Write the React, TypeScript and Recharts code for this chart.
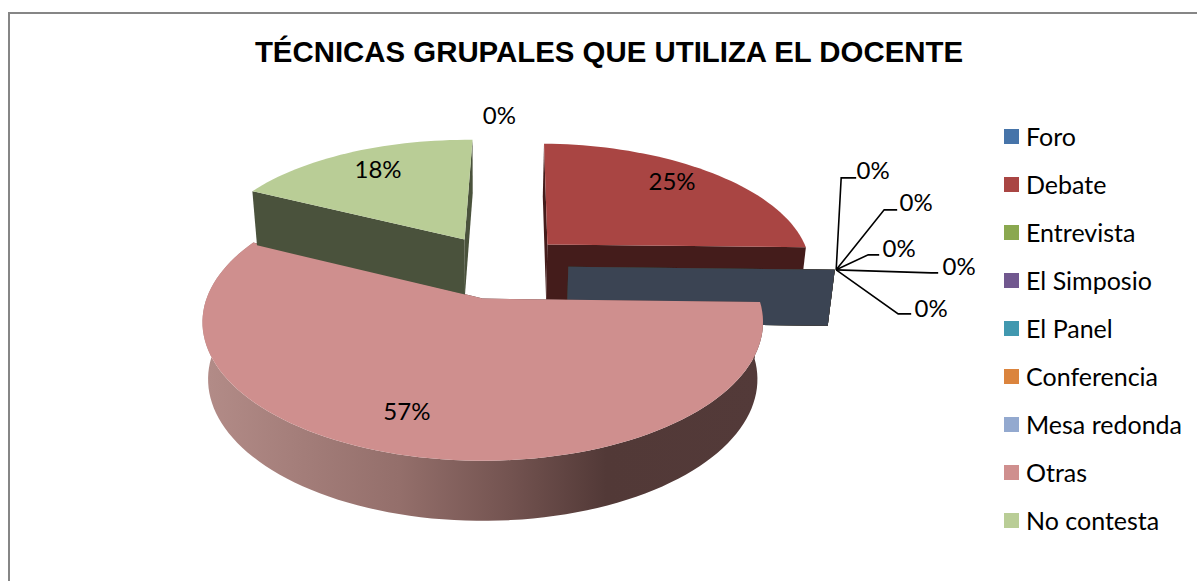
import React from "react";
import { PieChart, Pie, Legend } from "recharts";

const categories = ["Foro", "Debate", "Entrevista", "El Simposio", "El Panel", "Conferencia", "Mesa redonda", "Otras", "No contesta"];
const seriesValues = [0, 25, 0, 0, 0, 0, 0, 57, 18];
const sliceColors = ["#4674A9", "#A94543", "#8AA84F", "#71588F", "#4198AF", "#DB843D", "#93A9CF", "#CF8F8E", "#B9CD96"];
const chartTitle = "TÉCNICAS GRUPALES QUE UTILIZA EL DOCENTE";

const tableData = categories.map((name, i) => ({ name, value: seriesValues[i], fill: sliceColors[i] }));

// Perspective model of the tilted disc
const PERSPECTIVE = 0.17;
const Y_RATIO = 0.487;
const EXPLODE = 0.26;
const ORIGIN = [0.062, -0.248];
const RAD = Math.PI / 180;

type G = { cx: number; cy: number; A: number };
const project = (g: G, X: number, Y: number) => {
  const w = 1 - PERSPECTIVE * Y;
  return [g.cx + (g.A * X) / w, g.cy + (g.A * Y_RATIO * Y) / w];
};
const lower = (g: G, p: number[]) => [g.cx + (p[0] - g.cx) * 0.98, p[1] + 56.5 + 0.022 * (p[1] - g.cy)];
const apexOf = (mid: number) => [ORIGIN[0] + EXPLODE * Math.cos(mid * RAD), ORIGIN[1] + EXPLODE * Math.sin(mid * RAD)];
const rimAt = (g: G, a: number[], t: number, r = 1) => project(g, a[0] + r * Math.cos(t * RAD), a[1] + r * Math.sin(t * RAD));
const toPath = (pts: number[][]) => "M" + pts.map((p) => p[0].toFixed(2) + "," + p[1].toFixed(2)).join("L") + "Z";
const darken = (hex: string, f: number) => {
  const n = parseInt(hex.slice(1), 16);
  const c = [(n >> 16) & 255, (n >> 8) & 255, n & 255].map((v) => Math.round(v * f));
  return `rgb(${c[0]},${c[1]},${c[2]})`;
};

const DiscSlice = (props: any) => {
  const { cx, cy, outerRadius, startAngle, endAngle, fill, index } = props;
  const g = { cx, cy, A: outerRadius };
  const t0 = -startAngle;
  const t1 = -endAngle;
  const mid = (t0 + t1) / 2;
  const apex = apexOf(mid);
  const pa = project(g, apex[0], apex[1]);
  const span = t1 - t0;
  const rim: number[][] = [];
  const n = Math.max(1, Math.ceil(span / 2));
  for (let i = 0; i <= n; i++) rim.push(rimAt(g, apex, t0 + (span * i) / n));
  const wallFill = darken(fill, 0.4);
  const edge = (t: number) => {
    const r = rimAt(g, apex, t);
    return toPath([pa, r, lower(g, r), lower(g, pa)]);
  };
  const zero = span < 0.01;
  const showZeroWall = zero && Math.abs(Math.sin(t0 * RAD)) < 0.5;
  const frontWall = !zero && Math.sin(mid * RAD) > 0;
  const gid = `wall-${index}`;
  return (
    <g>
      {(!zero || showZeroWall) && <path d={edge(t0)} fill={wallFill} />}
      {!zero && <path d={edge(t1)} fill={wallFill} />}
      {frontWall && (
        <>
          <defs>
            <linearGradient id={gid} x1="0" y1="0" x2="1" y2="0">
              <stop offset="0" stopColor="#B38C88" />
              <stop offset="0.35" stopColor="#946F6B" />
              <stop offset="0.55" stopColor="#735350" />
              <stop offset="0.72" stopColor="#523937" />
              <stop offset="1" stopColor="#533A39" />
            </linearGradient>
          </defs>
          <path d={toPath([...rim, ...rim.map((p) => lower(g, p)).reverse()])} fill={`url(#${gid})`} />
        </>
      )}
      {!zero && <path d={toPath([pa, ...rim])} fill={fill} />}
    </g>
  );
};

// Label placement: radial fraction inside the slice plus a nudge; leaders for the stacked zero slices
const labelStyle: Record<number, any> = {
  0: { r: 1, dx: -4, dy: -22 },
  1: { r: 0.72, dx: 5, dy: -10 },
  7: { r: 0.78, dx: -16, dy: -5 },
  8: { r: 0.7, dx: -4, dy: -8 },
  2: { elbow: [5, -92], end: [20, -92], text: [37, -100] },
  3: { elbow: [48, -60], end: [61, -60], text: [80, -68] },
  4: { elbow: [32, -15], end: [43, -15], text: [63, -22] },
  5: { elbow: [95, 3], end: [102, 3], text: [123, -4] },
  6: { elbow: [62, 44], end: [75, 44], text: [95, 38] },
};

const SliceLabel = (props: any) => {
  const { cx, cy, outerRadius, midAngle, percent, index } = props;
  const g = { cx, cy, A: outerRadius };
  const s = labelStyle[index];
  const text = `${Math.round(percent * 100)}%`;
  const t = -midAngle;
  const a = apexOf(t);
  const font = { fontFamily: "Lato, sans-serif", fontSize: 24, fill: "#000" };
  if (s.elbow) {
    const o = rimAt(g, a, t);
    const ox = o[0] + 1.4;
    const oy = o[1];
    return (
      <g>
        <polyline
          points={`${ox},${oy} ${ox + s.elbow[0]},${oy + s.elbow[1]} ${ox + s.end[0]},${oy + s.end[1]}`}
          fill="none"
          stroke="#000"
          strokeWidth={1.6}
        />
        <text x={ox + s.text[0]} y={oy + s.text[1]} textAnchor="middle" dominantBaseline="central" {...font}>
          {text}
        </text>
      </g>
    );
  }
  const p = rimAt(g, a, t, s.r);
  return (
    <text x={p[0] + s.dx} y={p[1] + s.dy} textAnchor="middle" dominantBaseline="central" {...font}>
      {text}
    </text>
  );
};

const LegendList = ({ payload }: any) => (
  <div style={{ fontFamily: "Lato, sans-serif", fontSize: 25, color: "#000" }}>
    {(payload || []).map((e: any) => (
      <div key={e.value} style={{ height: 48, display: "flex", alignItems: "center" }}>
        <span style={{ width: 15, height: 15, background: e.color, marginRight: 7, display: "inline-block" }} />
        <span>{e.value}</span>
      </div>
    ))}
  </div>
);

export default function App() {
  return (
    <div style={{ position: "fixed", left: 0, top: 0, width: 1197, height: 581, overflow: "hidden", background: "#fff" }}>
      <div style={{ position: "absolute", left: 8, top: 12, width: 1300, height: 800, border: "2px solid #868686" }} />
      <div style={{ position: "absolute", left: 0, top: 0 }}>
        <PieChart width={1197} height={581} margin={{ top: 0, right: 0, bottom: 0, left: 0 }}>
          <text
            x={609}
            y={51}
            textAnchor="middle"
            dominantBaseline="central"
            fontFamily="'Liberation Sans', Arial, sans-serif"
            fontWeight="bold"
            fontSize={29.4}
            fill="#000"
          >
            {chartTitle}
          </text>
          <Pie
            data={tableData}
            dataKey="value"
            nameKey="name"
            cx={483}
            cy={298}
            outerRadius={276}
            startAngle={88.6}
            endAngle={-271.4}
            stroke="none"
            isAnimationActive={false}
            shape={DiscSlice}
            label={SliceLabel}
            labelLine={false}
          />
          <Legend
            layout="vertical"
            align="right"
            verticalAlign="top"
            itemSorter={null}
            content={<LegendList />}
            wrapperStyle={{ position: "absolute", left: 1004, top: 112, width: 190 }}
          />
        </PieChart>
      </div>
    </div>
  );
}
